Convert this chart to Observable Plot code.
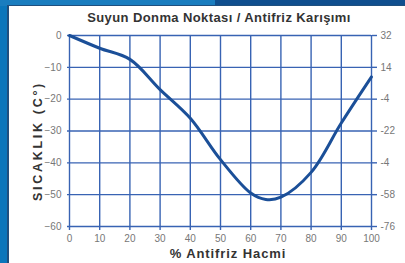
<!DOCTYPE html>
<html><head><meta charset="utf-8">
<script src="https://cdn.jsdelivr.net/npm/d3@7"></script>
<script src="https://cdn.jsdelivr.net/npm/@observablehq/plot@0.6"></script>
<style>
html,body{margin:0;padding:0;background:#fff;}
#wrap{position:relative;width:405px;height:263px;overflow:hidden;background:#0b76bb;}
#top{position:absolute;left:0;top:0;width:405px;height:6px;background:linear-gradient(90deg,#1a7dbf 0,#1a7dbf 53%,#0f4e8e 53%,#0f4e8e 100%);}
#edge{position:absolute;left:7px;top:5px;width:2px;height:258px;background:#1f4f7e;}
#edgeT{position:absolute;left:7px;top:5px;width:398px;height:1px;background:#1f4f7e;}
#panel{position:absolute;left:9px;top:6px;width:396px;height:257px;background:#fff;}
#chart{position:absolute;left:0;top:0;}
#title{position:absolute;left:0;top:10px;width:438px;text-align:center;font:bold 13px "Liberation Sans",Arial,sans-serif;letter-spacing:0.4px;color:#333;}
.xlab text{letter-spacing:0.9px;}
.ylab text{letter-spacing:2.7px;}
</style></head>
<body><div id="wrap"><div id="top"></div><div id="panel"></div><div id="edge"></div><div id="edgeT"></div><div id="chart"></div><div id="title">Suyun Donma Noktası / Antifriz Karışımı</div></div>
<script>
const antifriz = [0,10,20,30,40,50,60,65,70,80,90,100];
const sicaklik = [0,-4,-7.5,-17,-26,-39,-49.5,-51.5,-50.8,-43,-27.5,-13];
const xTicks = [0,10,20,30,40,50,60,70,80,90,100];
const yTicks = [0,-10,-20,-30,-40,-50,-60];
const rightLabels = ["32","14","-4","-22","-4","-58","-76"];
const data = antifriz.map((x,i)=>({x, y: sicaklik[i]}));
const grid = "#3863b3";
const plot = Plot.plot({
  width: 405, height: 263,
  marginLeft: 69, marginRight: 34, marginTop: 35, marginBottom: 37,
  style: {background: "transparent", fontFamily: "'Liberation Sans', Arial, sans-serif", fontSize: "10px", color: "#666"},
  x: {domain: [0,100]},
  y: {domain: [-60,0]},
  marks: [
    Plot.gridX(xTicks, {stroke: grid, strokeOpacity: 1, strokeWidth: 1.4}),
    Plot.gridY(yTicks, {stroke: grid, strokeOpacity: 1, strokeWidth: 1.4}),
    Plot.axisX(xTicks, {tickSize: 4, stroke: grid, strokeWidth: 1.4, tickPadding: 4, fill: "#777", label: null}),
    Plot.axisY(yTicks, {anchor: "left", tickSize: 2, stroke: grid, strokeWidth: 1.4, tickPadding: 6, fill: "#777", label: null}),
    Plot.axisY(yTicks, {anchor: "right", tickSize: 5, stroke: grid, strokeWidth: 1.4, tickPadding: 4, fill: "#777", label: null,
      tickFormat: (d) => rightLabels[yTicks.indexOf(d)]}),
    Plot.line(data, {x: "x", y: "y", curve: "catmull-rom", stroke: "#1b4f98", strokeWidth: 3}),
    Plot.text(["% Antifriz Hacmi"], {className: "xlab", frameAnchor: "bottom", fontWeight: "bold", fontSize: 13, fill: "#333"}),
    Plot.text(["SICAKLIK (C°)"], {className: "ylab", frameAnchor: "left", rotate: -90, fontWeight: "bold", fontSize: 12.5, fill: "#333"})
  ]
});
const svg = d3.select(plot);
svg.selectAll(".xlab, .ylab").attr("transform", null);
svg.select(".xlab text").attr("transform", "translate(228,253)").attr("text-anchor", "middle").attr("dy", "0.35em");
svg.select(".ylab text").attr("transform", "translate(34,141) rotate(-90)").attr("text-anchor", "middle").attr("dy", "0.35em");
document.getElementById("chart").appendChild(plot);
</script></body></html>
